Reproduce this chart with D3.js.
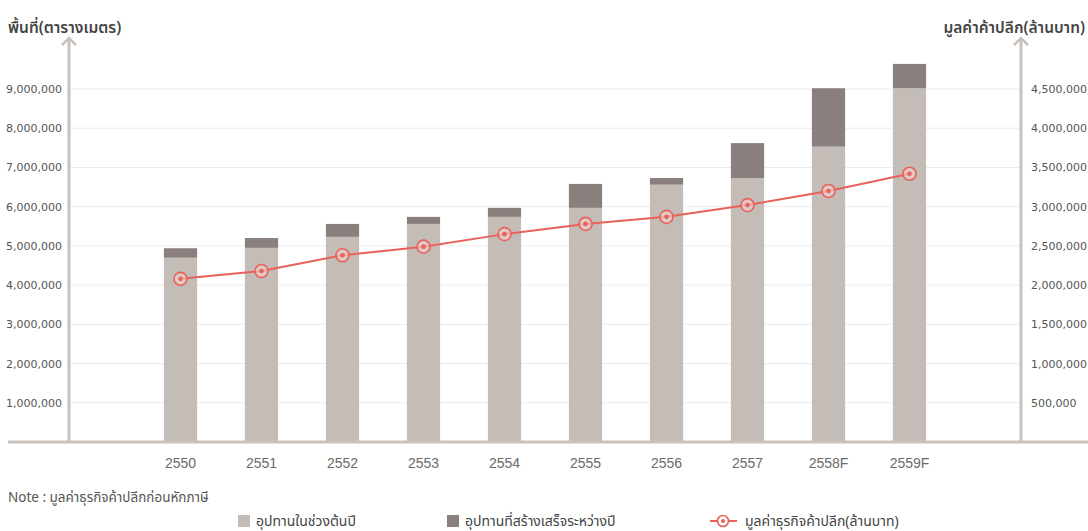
<!DOCTYPE html>
<html><head><meta charset="utf-8">
<script src="https://cdn.jsdelivr.net/npm/d3@7"></script>
<style>
html,body{margin:0;padding:0;background:#fff;}
svg{display:block;}
</style></head>
<body>
<svg id="chart" width="1088" height="531"></svg>
<script>
const years = ["2550","2551","2552","2553","2554","2555","2556","2557","2558F","2559F"];
const supplyStart = [4700000,4950000,5230000,5560000,5740000,5970000,6560000,6730000,7530000,9020000];
const supplyNew   = [240000,250000,330000,180000,230000,610000,170000,890000,1490000,620000];
const retailValue = [2080000,2180000,2380000,2490000,2650000,2780000,2870000,3020000,3200000,3420000];
const leftTicks = [1000000,2000000,3000000,4000000,5000000,6000000,7000000,8000000,9000000];
const rightTicks = [500000,1000000,1500000,2000000,2500000,3000000,3500000,4000000,4500000];
const leftTitle = "พื้นที่(ตารางเมตร)";
const rightTitle = "มูลค่าค้าปลีก(ล้านบาท)";
const noteText = "Note : มูลค่าธุรกิจค้าปลีกก่อนหักภาษี";
const legendLabels = ["อุปทานในช่วงต้นปี","อุปทานที่สร้างเสร็จระหว่างปี","มูลค่าธุรกิจค้าปลีก(ล้านบาท)"];

(function(){
const C = {light:"#c4bcb6", dark:"#89807d", axis:"#c9c1bb", grid:"#ebebeb", line:"#e8615a", text:"#555"};
const thai = "'Noto Sans Thai','Noto Sans','DejaVu Sans',sans-serif";
const svg = d3.select("#chart");
const axL = 69, axR = 1021, base = 442, yTop = 89;

const x = d3.scaleBand().domain(years).range([140, 950]).paddingInner(0.59).paddingOuter(0.295);
const yL = d3.scaleLinear().domain([0, 9000000]).range([base, yTop]);
const yR = d3.scaleLinear().domain([0, 4500000]).range([base, yTop]);
const fmt = d3.format(",");

// grid
svg.append("g").selectAll("line").data(leftTicks).join("line")
  .attr("x1", axL).attr("x2", axR).attr("y1", d => yL(d)).attr("y2", d => yL(d))
  .attr("stroke", C.grid).attr("stroke-width", 1);

// left axis
const gL = svg.append("g").attr("transform", `translate(${axL},0)`)
  .call(d3.axisLeft(yL).tickValues(leftTicks).tickFormat(fmt).tickSize(0).tickPadding(7));
gL.select(".domain").remove();
gL.selectAll("text").attr("font-family", "'DejaVu Sans',sans-serif").attr("font-size", 11).attr("fill", C.text);

// right axis
const gR = svg.append("g").attr("transform", `translate(${axR},0)`)
  .call(d3.axisRight(yR).tickValues(rightTicks).tickFormat(fmt).tickSize(0).tickPadding(10));
gR.select(".domain").remove();
gR.selectAll("text").attr("font-family", "'DejaVu Sans',sans-serif").attr("font-size", 11).attr("fill", C.text);

// bars
const bars = svg.append("g");
bars.selectAll("rect.s").data(years).join("rect")
  .attr("x", d => x(d)).attr("width", x.bandwidth())
  .attr("y", (d,i) => yL(supplyStart[i])).attr("height", (d,i) => base - yL(supplyStart[i]))
  .attr("fill", C.light);
bars.selectAll("rect.n").data(years).join("rect")
  .attr("x", d => x(d)).attr("width", x.bandwidth())
  .attr("y", (d,i) => yL(supplyStart[i] + supplyNew[i])).attr("height", (d,i) => yL(supplyStart[i]) - yL(supplyStart[i] + supplyNew[i]))
  .attr("fill", C.dark);

// axis lines
const axG = svg.append("g").attr("stroke", C.axis).attr("stroke-width", 3).attr("fill", "none");
axG.append("line").attr("x1", axL).attr("x2", axL).attr("y1", 38).attr("y2", base);
axG.append("line").attr("x1", axR).attr("x2", axR).attr("y1", 38).attr("y2", base);
axG.append("path").attr("d", `M${axL-7},${45}L${axL},${38}L${axL+7},${45}`).attr("stroke-width", 2.5);
axG.append("path").attr("d", `M${axR-7},${45}L${axR},${38}L${axR+7},${45}`).attr("stroke-width", 2.5);
axG.append("line").attr("x1", 8).attr("x2", 1088).attr("y1", base).attr("y2", base);

// x labels
const gX = svg.append("g").attr("transform", `translate(0,${base})`)
  .call(d3.axisBottom(x).tickSize(0).tickPadding(16));
gX.select(".domain").remove();
gX.selectAll("text").attr("font-family", "'Liberation Sans Narrow','Liberation Sans',sans-serif").attr("font-size", 14).attr("fill", "#6a6a6a");

// line
const cx = (d,i) => x(years[i]) + x.bandwidth()/2;
svg.append("path").datum(retailValue)
  .attr("d", d3.line().x((d,i) => cx(d,i)).y(d => yR(d)))
  .attr("fill", "none").attr("stroke", C.line).attr("stroke-width", 2);
const mk = svg.append("g");
mk.selectAll("circle.o").data(retailValue).join("circle")
  .attr("cx", cx).attr("cy", d => yR(d)).attr("r", 6.5)
  .attr("fill", "#f4d3cf").attr("fill-opacity", 0.6).attr("stroke", C.line).attr("stroke-width", 1.6);
mk.selectAll("circle.i").data(retailValue).join("circle")
  .attr("cx", cx).attr("cy", d => yR(d)).attr("r", 2.3).attr("fill", C.line);

// titles
svg.append("text").attr("x", 8).attr("y", 33).text(leftTitle)
  .attr("font-family", thai).attr("font-size", 15.5).attr("font-weight", 600).attr("fill", "#444");
svg.append("text").attr("x", 1085).attr("y", 33).attr("text-anchor", "end").text(rightTitle)
  .attr("font-family", thai).attr("font-size", 15.5).attr("font-weight", 600).attr("fill", "#444");

// note
svg.append("text").attr("x", 8).attr("y", 502).text(noteText)
  .attr("font-family", thai).attr("font-size", 13.5).attr("fill", "#555");

// legend
const lg = svg.append("g").attr("font-family", thai).attr("font-size", 14).attr("fill", "#444");
lg.append("rect").attr("x", 238).attr("y", 515).attr("width", 12).attr("height", 12).attr("fill", C.light);
lg.append("text").attr("x", 256).attr("y", 526).text(legendLabels[0]);
lg.append("rect").attr("x", 447).attr("y", 515).attr("width", 12).attr("height", 12).attr("fill", C.dark);
lg.append("text").attr("x", 465).attr("y", 526).text(legendLabels[1]);
lg.append("line").attr("x1", 710).attr("x2", 737).attr("y1", 521).attr("y2", 521).attr("stroke", C.line).attr("stroke-width", 2);
lg.append("circle").attr("cx", 723).attr("cy", 521).attr("r", 5.5).attr("fill", "#fff").attr("stroke", C.line).attr("stroke-width", 1.6);
lg.append("circle").attr("cx", 723).attr("cy", 521).attr("r", 2).attr("fill", C.line);
lg.append("text").attr("x", 745).attr("y", 526).text(legendLabels[2]);
})();
</script>
</body></html>
